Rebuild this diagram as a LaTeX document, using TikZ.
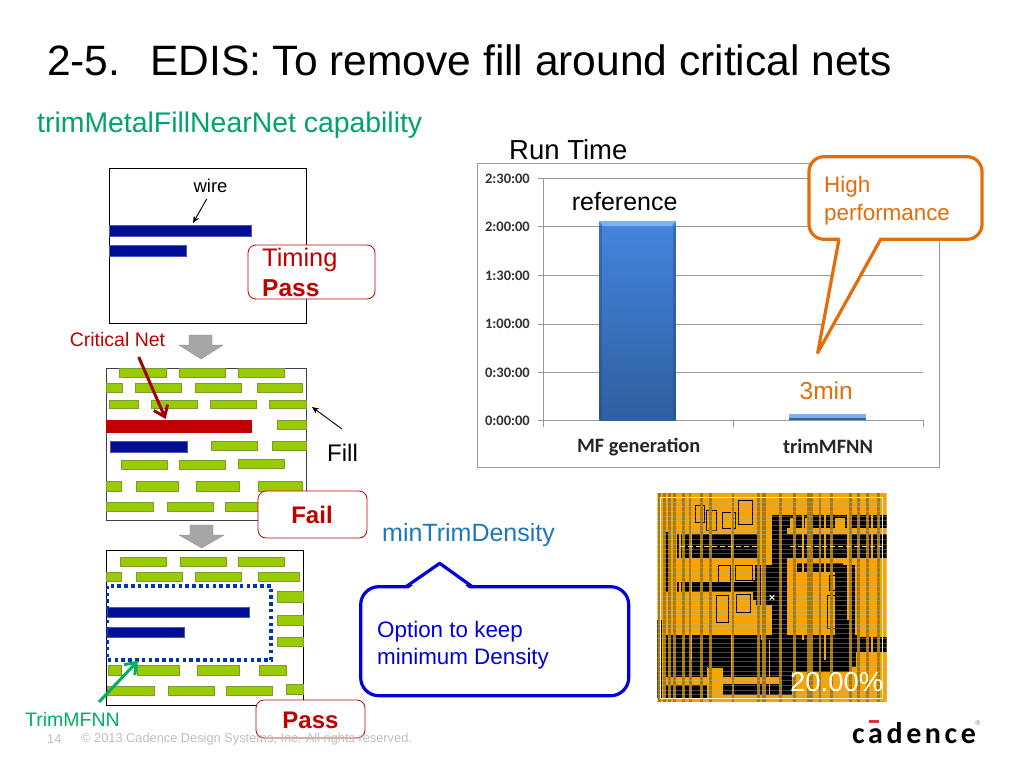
\documentclass[tikz,border=0pt]{standalone}
\usepackage{fontspec}
\usetikzlibrary{arrows.meta}
\setmainfont{Liberation Sans}
\newfontfamily\chartfont{Carlito}
\newfontfamily\logofont[LetterSpace=12]{Carlito}

\definecolor{netblue}{HTML}{000E96}
\definecolor{netred}{HTML}{C00000}
\definecolor{fillgreen}{HTML}{99CC00}
\definecolor{edgegreen}{HTML}{7F9A30}
\definecolor{arrowgray}{HTML}{A6A6A6}
\definecolor{lineorange}{HTML}{E46C0A}
\definecolor{calloutblue}{HTML}{0000DC}
\definecolor{dotblue}{HTML}{0033BB}
\definecolor{trimgreen}{HTML}{00B060}
\definecolor{subgreen}{HTML}{00A36C}
\definecolor{densblue}{HTML}{1F78B4}
\definecolor{layorange}{HTML}{F7A400}
\definecolor{laydark}{HTML}{A87808}
\definecolor{barlight}{HTML}{7DB2F0}
\definecolor{bartop}{HTML}{4485DE}
\definecolor{barlow}{HTML}{2F5F9F}
\definecolor{logored}{HTML}{E03040}

\newcommand{\fsize}[1]{\fontsize{#1}{#1}\selectfont}

\tikzset{
	textlabel/.style={inner sep=0pt, anchor=west},
	fillbar/.style={fill=fillgreen, draw=edgegreen, line width=0.6pt},
	wirebar/.style={fill=netblue, draw=netblue!70!white, line width=0.4pt},
	flowarrow/.style={fill=arrowgray, draw=arrowgray!80!black, line width=0.3pt},
	verdict/.style={draw=netred, fill=white, line width=0.8pt, rounded corners=8pt},
	ticklabel/.style={inner sep=0pt, anchor=east, font=\chartfont\bfseries\fsize{14.5}, text=black!80},
	axislabel/.style={inner sep=0pt, font=\chartfont\bfseries\fsize{20.4}, text=black!85},
	gridline/.style={draw=black!40, line width=0.8pt},
}

\begin{document}
\begin{tikzpicture}[x=1pt, y=-1pt]
	\useasboundingbox (0,0) rectangle (1024,768);
	\fill[white] (0,0) rectangle (1024,768);

	% headings
	\node[inner sep=0pt, anchor=base west] (num)   at (47,75)   {\fsize{42.5}2-5.};
	\node[inner sep=0pt, anchor=base west] (title) at (150,75)  {\fsize{42.5}EDIS: To remove fill around critical nets};
	\node[textlabel, text=subgreen] (sub) at (37,125) {\fsize{28.4}trimMetalFillNearNet capability};

	% first layout
	\draw[line width=1pt] (109.3,168) rectangle (306,323);
	\draw[wirebar] (109.3,225) rectangle (251,236);
	\draw[wirebar] (109.3,245) rectangle (186,256);
	\node[inner sep=0pt] (wire) at (210.5,186) {\fsize{18.5}wire};
	\coordinate (wiretip) at (193,223);
	\draw[-{Stealth[length=7pt,width=6pt]}, line width=0.9pt] (206.7,199) -- (wiretip);
	\draw[verdict] (248,245) rectangle (375,299);
	\node[textlabel, text=netred] (timing) at (262,260) {\fsize{25.4}Timing};
	\node[textlabel, text=netred] (tpass)  at (262,288) {\fsize{24.5}\bfseries Pass};

	% flow arrows
	\draw[flowarrow] (189,335) -- (212,335) -- (212,345) -- (223,345) -- (201,359) -- (179,345) -- (189,345) -- cycle;
	\draw[flowarrow] (190,525) -- (213,525) -- (213,535) -- (224,535) -- (201.7,548) -- (179,535) -- (190,535) -- cycle;

	% second layout
	\draw[line width=1pt, draw=black!75] (106.7,368) rectangle (306.3,520);
	\foreach \xa/\xb/\ya/\yb in {119.7/166/368.3/377, 179.3/225.7/368.3/377, 238/284/368.3/377,
		106.7/122.7/383.7/392.3, 135.3/181.7/383.7/392.3, 195.3/241.7/383.7/392.3, 257.3/302.7/383.7/392.3,
		109.3/138.7/400/408.7, 151.3/197.7/400/408.7, 210.3/256.7/400/408.7, 269.3/306.3/400/408.7,
		277.3/306.3/420.3/429.7, 211.3/257.7/441.7/450.7, 272.3/306.3/441.7/450.7,
		121.3/167.7/460.3/469.3, 179.3/225.7/460.3/469.3, 238/284/459.3/468.3,
		106.7/121.7/481.7/491.3, 136.3/178.7/481.7/491.3, 196.3/239/481.7/491.3, 258.7/302.7/481.7/491.3,
		106.7/153.7/502.3/511.3, 167.3/213.7/502.3/511.3, 225.3/271.7/502.3/511.3}
		\draw[fillbar] (\xa,\ya) rectangle (\xb,\yb);
	\fill[netred] (106.3,420.3) rectangle (252,432.7);
	\draw[wirebar] (110,441.3) rectangle (186.7,452.3);
	\node[inner sep=0pt, text=netred] (critical) at (117.5,340) {\fsize{19.5}Critical Net};
	\coordinate (crittip) at (165.7,419);
	\draw[-{Straight Barb[length=10pt,width=15pt]}, line width=3pt, draw=netred!85!black] (138.7,357) -- (crittip);
	\coordinate (filltip) at (312,407);
	\draw[-{Stealth[length=7pt,width=6pt]}, line width=0.9pt] (342,429) -- (filltip);
	\node[textlabel] (filltext) at (327,453) {\fsize{24}Fill};
	\draw[verdict] (258,491) rectangle (367,538);
	\node[inner sep=0pt, text=netred] (fail) at (312,515) {\fsize{24}\bfseries Fail};

	% third layout
	\draw[line width=1pt] (106.7,550) rectangle (303.7,705);
	\foreach \xa/\xb/\ya/\yb in {120.3/166.7/557.3/566.3, 180.3/226.7/557.3/566.3, 238.3/284.7/557.3/566.3,
		106.7/121.7/572.3/581.7, 136.3/182.7/572.3/581.7, 195.3/241.7/572.3/581.7, 258.7/299.7/572.3/581.7,
		277.3/303.7/591.7/602.3, 277.3/303.7/615.3/625.3, 277.3/303.7/637.3/646.3,
		108.3/121.7/665.7/675.3, 137.3/179.7/665.7/675.3, 197.3/239.7/665.7/675.3, 259.3/286.7/665.7/675.3,
		107.3/154.7/686.3/695.3, 168.3/214.7/686.3/695.3, 226.3/272.7/686.3/695.3, 286/303.7/684.3/694.3}
		\draw[fillbar] (\xa,\ya) rectangle (\xb,\yb);
	\draw[wirebar] (106.7,606.7) rectangle (248.7,617.3);
	\draw[wirebar] (106.7,626.7) rectangle (183.7,637.3);
	\draw[draw=dotblue, line width=3.6pt, dash pattern=on 3.5pt off 3.3pt] (107.3,585.7) rectangle (271,660);
	\node[inner sep=0pt, text=trimgreen] (trimtext) at (72.5,719) {\fsize{19.5}TrimMFNN};
	\coordinate (trimtip) at (138,660.7);
	\draw[-{Straight Barb[length=10pt,width=15pt]}, line width=3pt, draw=trimgreen] (99,702) -- (trimtip);
	\draw[verdict] (256,700) rectangle (365,738);
	\node[inner sep=0pt, text=netred] (pass) at (310.5,720) {\fsize{24}\bfseries Pass};

	% footer
	\node[textlabel, text=black!25] (page) at (47,739) {\fsize{12.8}14};
	\node[textlabel, text=black!25] (copy) at (81,739) {\fsize{12.8}© 2013 Cadence Design Systems, Inc. All rights reserved.};

	% run time chart
	\node[textlabel] (runtime) at (509,150) {\fsize{27.5}Run Time};
	\draw[draw=black!40, line width=0.8pt] (477.3,163.7) rectangle (939.3,467.3);
	\foreach \yy/\tick in {178.3/2:30:00, 226.7/2:00:00, 275.7/1:30:00, 324/1:00:00, 372.3/0:30:00, 420.3/0:00:00}{
		\draw[gridline] (538.3,\yy) -- (923.3,\yy);
		\node[ticklabel] at (530,\yy) {\tick};
	}
	\draw[gridline] (543.3,178.3) -- (543.3,420.3);
	\foreach \xx in {543.3, 733.3, 923.3}
		\draw[gridline] (\xx,420.3) -- (\xx,426.7);
	\shade[top color=bartop, bottom color=barlow] (599.3,221) rectangle (675.7,420.3);
	\fill[barlow!70!black, opacity=0.35] (599.3,226) rectangle (602,420.3);
	\fill[barlow!70!black, opacity=0.35] (673,226) rectangle (675.7,420.3);
	\fill[barlight] (599.3,221) -- (675.7,221) -- (672,226) -- (603,226) -- cycle;
	\fill[barlight] (789.3,414.3) rectangle (866,418);
	\fill[barlow] (789.3,418) rectangle (866,420.3);
	\node[axislabel] (xa) at (638.7,446.7) {MF generation};
	\node[axislabel] (xb) at (828,446.7) {trimMFNN};
	\node[textlabel] (refer) at (571.7,201.7) {\fsize{25}reference};
	\node[textlabel, text=lineorange] (three) at (799.5,390.7) {\fsize{24.5}3min};

	% orange callout
	\draw[draw=lineorange, fill=white, line width=3.2pt, rounded corners=15pt] (809,156.7) rectangle (982,239.3);
	\fill[white] (841,236) -- (879,236) -- (879,241) -- (817.7,352.7) -- (839,241) -- cycle;
	\draw[draw=lineorange, line width=3.2pt, line join=round] (880.7,239.3) -- (817.7,352.7) -- (839,239.3);
	\node[textlabel, text=lineorange] (high) at (824,187) {\fsize{22.4}High};
	\node[textlabel, text=lineorange] (perf) at (824,215) {\fsize{22.4}performance};

	% density callout
	\node[textlabel, text=densblue] (mintrim) at (382,535) {\fsize{25}minTrimDensity};
	\draw[draw=calloutblue, fill=white, line width=3.2pt, rounded corners=18pt] (360.7,586.7) rectangle (628.7,695.7);
	\fill[white] (408,589) -- (439.7,565) -- (470,589) -- cycle;
	\draw[draw=calloutblue, line width=3.2pt, line join=round] (406,586.7) -- (439.7,563.3) -- (472.3,586.7);
	\node[textlabel, text=calloutblue] (option) at (377,632) {\fsize{22.4}Option to keep};
	\node[textlabel, text=calloutblue] (minim)  at (377,659) {\fsize{22.4}minimum Density};

	% density plot
	\begin{scope}
		\clip (657.3,493.3) rectangle (886.7,701.7);
		\fill[layorange] (657.3,493.3) rectangle (886.7,701.7);
		\foreach \xa/\xb/\ya/\yb in {676.7/760/534.3/558.3, 773/886.7/515/528, 771.7/786.7/515/692, 786.7/886.7/534/558,
			796.7/843/563/572, 676.7/760/582/592, 663/670/532/592, 753/772/565/605, 835/855/565/635,
			663/857/635/667, 708/783/658/695, 663/707/652/677, 777/850/652/672, 857/886.7/637/652,
			663/707/685/698, 783/792/670/695, 657.3/662/620/698}
			\fill[black] (\xa,\ya) rectangle (\xb,\yb);
		\foreach \xa/\xb/\ya/\yb in {663/782/677/684, 707/723/668/698, 787/800/574/635, 725/756/600/634, 725/755/562/580,
			800/835/574/630, 790/796/518/530, 805/812/518/530, 835/845/518/530, 856/886.7/652/700, 800/886/672/700,
			858/886/565/637}
			\fill[layorange] (\xa,\ya) rectangle (\xb,\yb);
		% thin cell outlines
		\foreach \xa/\xb/\ya/\yb in {695/704/505/522, 706/716/510/530, 722/735/512/528, 738/752/500/524, 718/730/565/582, 735/752/565/580,
			716/728/595/622, 736/750/594/612, 829/838/575/590, 827/836/595/628}
			\draw[black, line width=0.6pt] (\xa,\ya) rectangle (\xb,\yb);
		\foreach \xx/\ww in {659.3/3, 664/3, 669.3/3, 674/3, 683.3/3, 690/3, 701.7/2.5, 710.7/2.5, 733.3/2, 758.3/2.5, 764/4,
			780.7/2.5, 794/3, 810/5.5, 820/2, 831.7/3, 850/3, 858.3/3, 867/3, 878.3/3}
			\fill[laydark] (\xx-0.5*\ww,493.3) rectangle (\xx+0.5*\ww,701.7);
		\foreach \xx/\ya/\yb in {680/493/630, 691.7/493/660, 731.7/493/680, 761.7/493/640, 769.7/640/700, 803/493/640, 825/493/660, 848/493/620, 872/493/700}
			\fill[layorange] (\xx-0.6,\ya) rectangle (\xx+0.6,\yb);
		\foreach \yy in {497,501.7,...,701}
			\draw[draw=black!30, line width=0.3pt, opacity=0.4] (657.3,\yy) -- (886.7,\yy);
		\draw[draw=layorange!50!white, line width=0.5pt, dash pattern=on 5pt off 3pt] (680,546.7) -- (760,546.7);
		\draw[draw=layorange!50!white, line width=0.5pt, dash pattern=on 5pt off 3pt] (790,546.7) -- (886,546.7);
	\end{scope}
	\draw[draw=white!85!orange, line width=0.9pt] (660,497.7) rectangle (882,698);
	\node[inner sep=0pt, text=white] (star) at (772,598) {\fsize{11}\textbf{×}};
	\node[textlabel, text=white] (percent) at (790,681.7) {\fsize{27.4}20.00\%};

	% logo
	\node[textlabel] (logo) at (852,733) {\logofont\bfseries\fsize{30}cadence};
	\fill[logored] (869,720) rectangle (879,722.5);
	\node[inner sep=0pt, text=black!50] (regmark) at (978,723) {\fsize{7}®};
\end{tikzpicture}
\end{document}
